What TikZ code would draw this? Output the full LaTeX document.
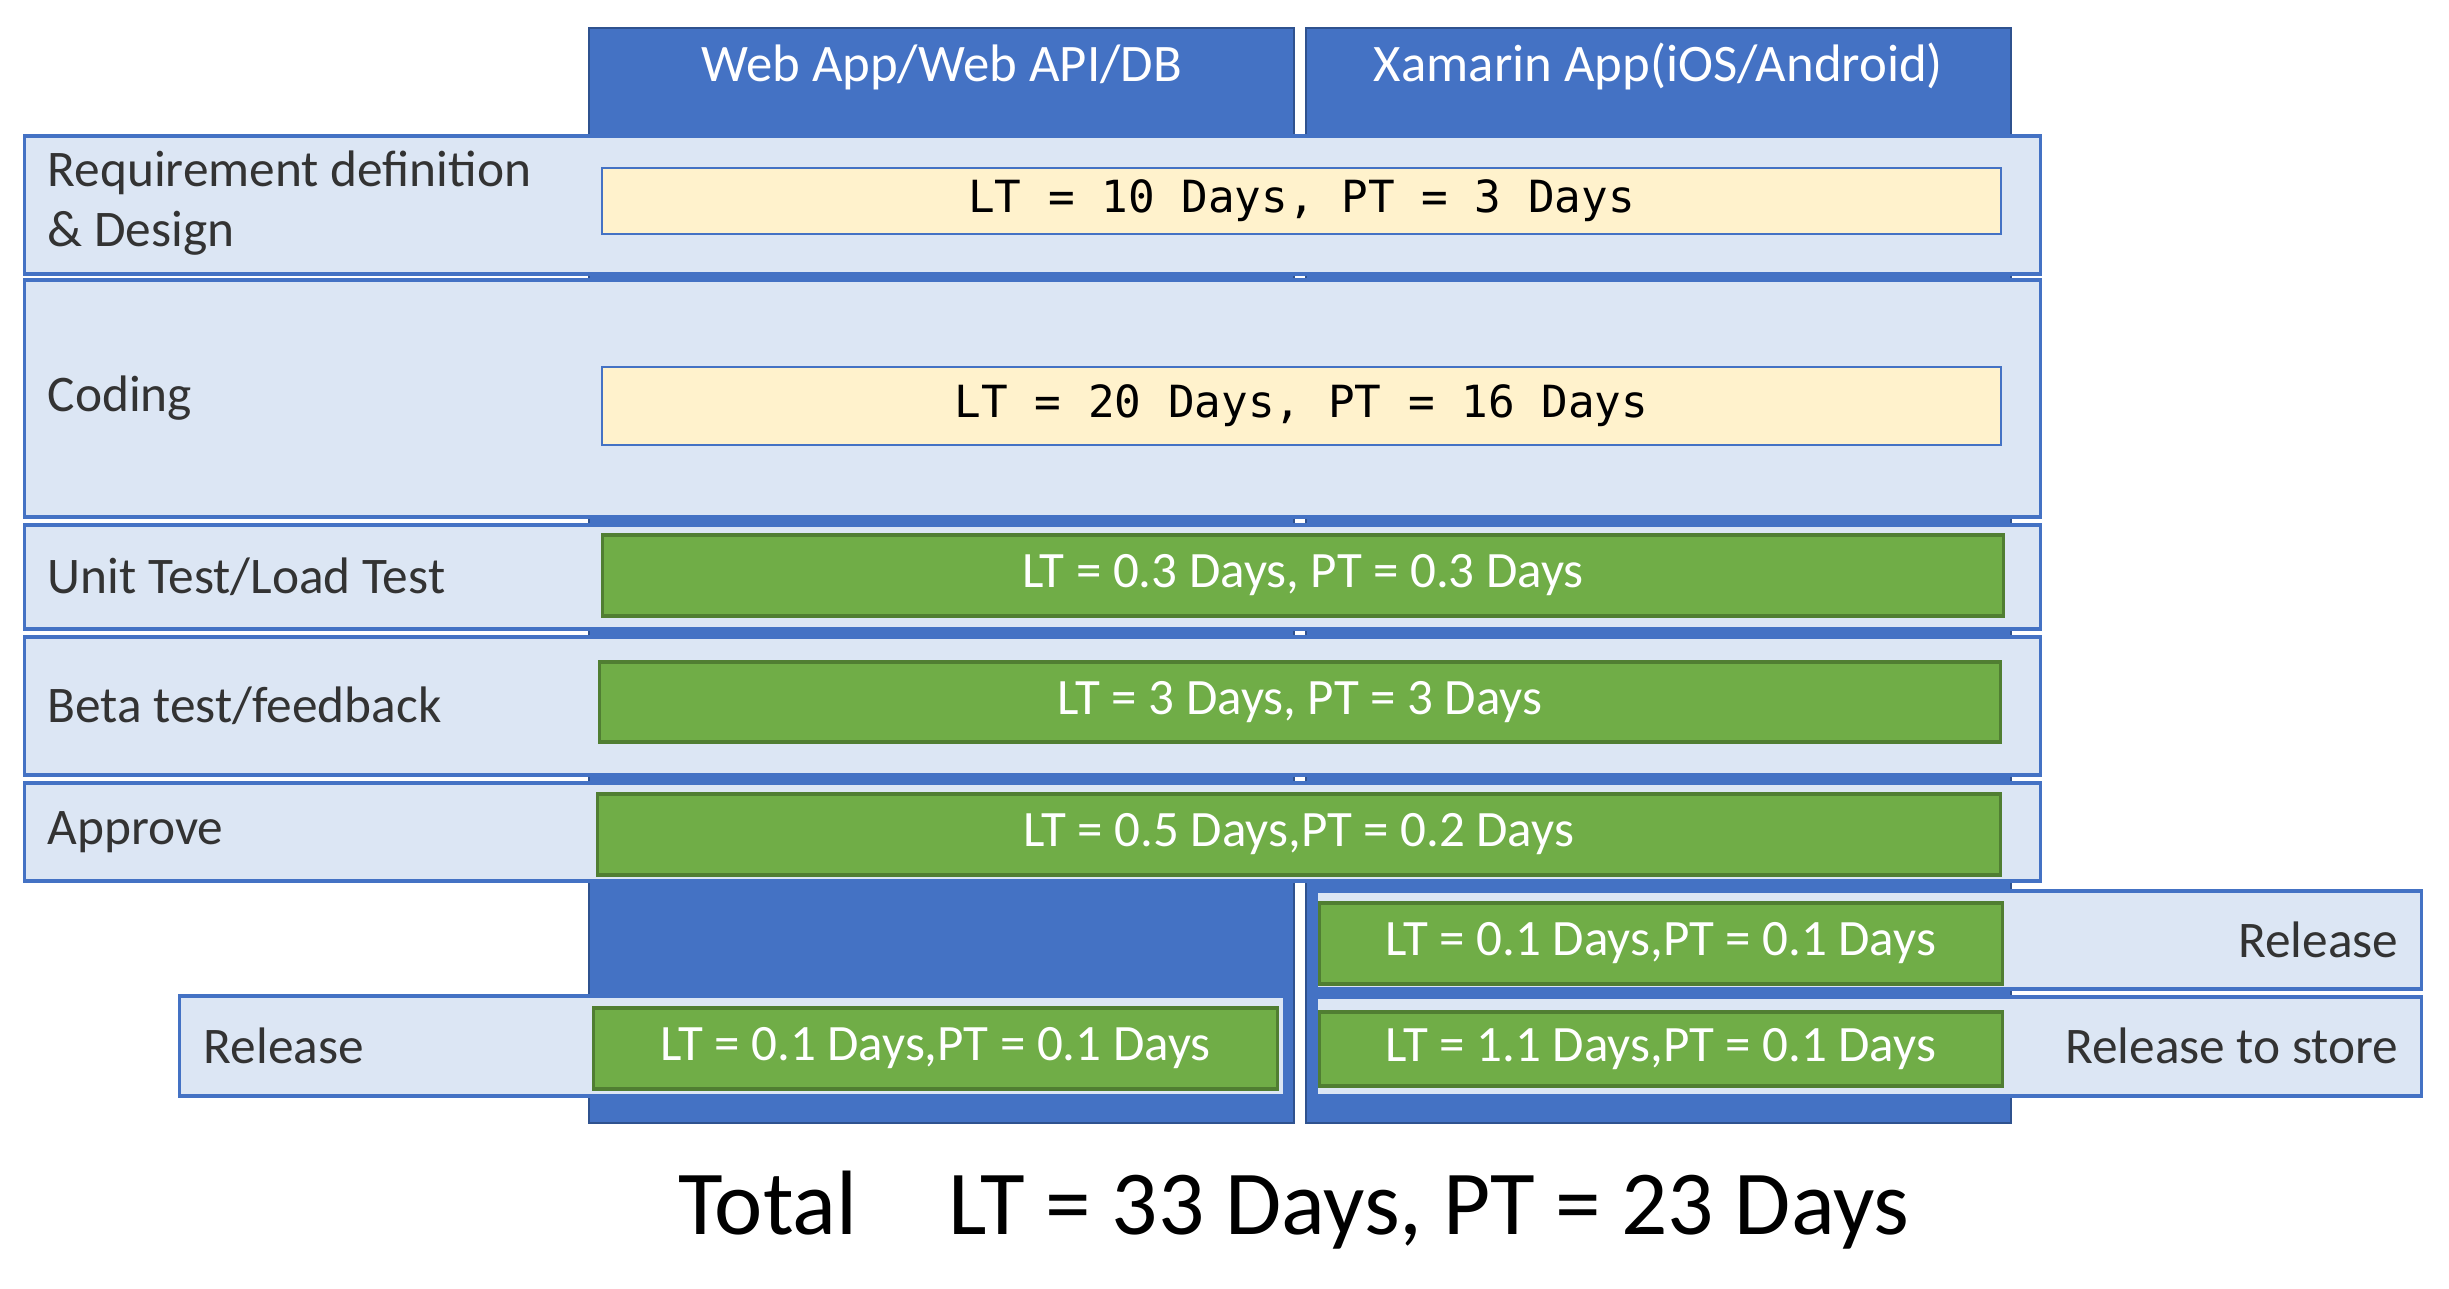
\documentclass[tikz,border=0pt]{standalone}
\usepackage{fontspec}
\setmainfont{Carlito}
\setmonofont{DejaVu Sans Mono}
\usetikzlibrary{positioning}
\definecolor{colBlue}{HTML}{4472C4}
\definecolor{colEdge}{HTML}{2F528F}
\definecolor{rowBlue}{HTML}{DCE6F4}
\definecolor{noteYellow}{HTML}{FFF2CC}
\definecolor{boxGreen}{HTML}{70AD47}
\definecolor{boxEdge}{HTML}{507E32}
\tikzset{
    % Columns
    column/.style={rectangle, draw=colEdge, line width=0.5pt, fill=colBlue,
                   minimum width=7.05cm, minimum height=10.95cm, inner sep=0pt},
    colTitle/.style={anchor=base, text=white, font=\fontsize{15}{18}\selectfont},
    % Rows and boxes
    phase/.style={rectangle, draw=colBlue, line width=0.9pt, fill=rowBlue, inner sep=0pt},
    ltYellow/.style={rectangle, draw=colBlue, line width=0.6pt, fill=noteYellow,
                     minimum width=13.99cm, inner sep=0pt, font=\ttfamily\fontsize{12.6}{14}\selectfont},
    ltGreen/.style={rectangle, draw=boxEdge, line width=0.9pt, fill=boxGreen, inner sep=0pt,
                    text=white, font=\fontsize{14.5}{16}\selectfont},
    % Labels
    lbl/.style={anchor=west, align=left, inner sep=0pt, text=black!80, font=\fontsize{14.6}{17}\selectfont}
}
\begin{document}
\begin{tikzpicture}[x=0.01cm, y=-0.01cm]
\useasboundingbox (0,0) rectangle (2449,1288);

% columns
\node[column] (web) at (941.5,575.5) {};
\node[column] (xam) at (1658.5,575.5) {};
\node[colTitle] (webT) at (941.5,82) {Web App/Web API/DB};
\node[colTitle] (xamT) at (1658.5,82) {Xamarin App(iOS/Android)};

% phases
\node[phase, minimum width=20.15cm, minimum height=1.38cm] (req) at (1032.5,205) {};
\node[phase, minimum width=20.15cm, minimum height=2.37cm] (code) at (1032.5,398.5) {};
\node[phase, minimum width=20.15cm, minimum height=1.04cm] (unit) at (1032.5,577) {};
\node[phase, minimum width=20.15cm, minimum height=1.38cm] (beta) at (1032.5,706) {};
\node[phase, minimum width=20.15cm, minimum height=0.98cm] (appr) at (1032.5,832) {};

\node[lbl] (reqL) at (47,203) {Requirement definition\\\& Design};
\node[lbl] (codeL) at (47,398) {Coding};
\node[lbl] (unitL) at (47,577) {Unit Test/Load Test};
\node[lbl] (betaL) at (47,706) {Beta test/feedback};
\node[lbl] (apprL) at (47,832) {Approve};

\node[ltYellow, minimum height=0.66cm] (reqT) at (1301.5,201) {LT = 10 Days, PT = 3 Days};
\node[ltYellow, minimum height=0.78cm] (codeT) at (1301.5,406) {LT = 20 Days, PT = 16 Days};
\node[ltGreen, minimum width=14cm, minimum height=0.81cm] (unitT) at (1303,575.5) {LT = 0.3 Days, PT = 0.3 Days};
\node[ltGreen, minimum width=14cm, minimum height=0.8cm] (betaT) at (1300,702) {LT = 3 Days, PT = 3 Days};
\node[ltGreen, minimum width=14.02cm, minimum height=0.81cm] (apprT) at (1299,834.5) {LT = 0.5 Days,PT = 0.2 Days};

% release
\node[phase, minimum width=11.04cm, minimum height=0.98cm] (relX) at (1869,940) {};
\node[phase, minimum width=11.04cm, minimum height=0.99cm] (store) at (1869,1046.5) {};
\node[phase, minimum width=11.04cm, minimum height=1cm] (relW) at (732,1046) {};

\node[ltGreen, minimum width=6.82cm, minimum height=0.81cm] (relXT) at (1661,943.5) {LT = 0.1 Days,PT = 0.1 Days};
\node[ltGreen, minimum width=6.82cm, minimum height=0.74cm] (storeT) at (1661,1049) {LT = 1.1 Days,PT = 0.1 Days};
\node[ltGreen, minimum width=6.83cm, minimum height=0.81cm] (relWT) at (935.5,1048.5) {LT = 0.1 Days,PT = 0.1 Days};

\node[lbl, anchor=east] (relXL) at (2399,940) {Release};
\node[lbl, anchor=east] (storeL) at (2399,1046) {Release to store};
\node[lbl] (relWL) at (203,1046) {Release};

% total
\node[font=\fontsize{26}{31}\selectfont] (total) at (1294,1210) {Total\hspace{1em}LT = 33 Days, PT = 23 Days};

\end{tikzpicture}
\end{document}
